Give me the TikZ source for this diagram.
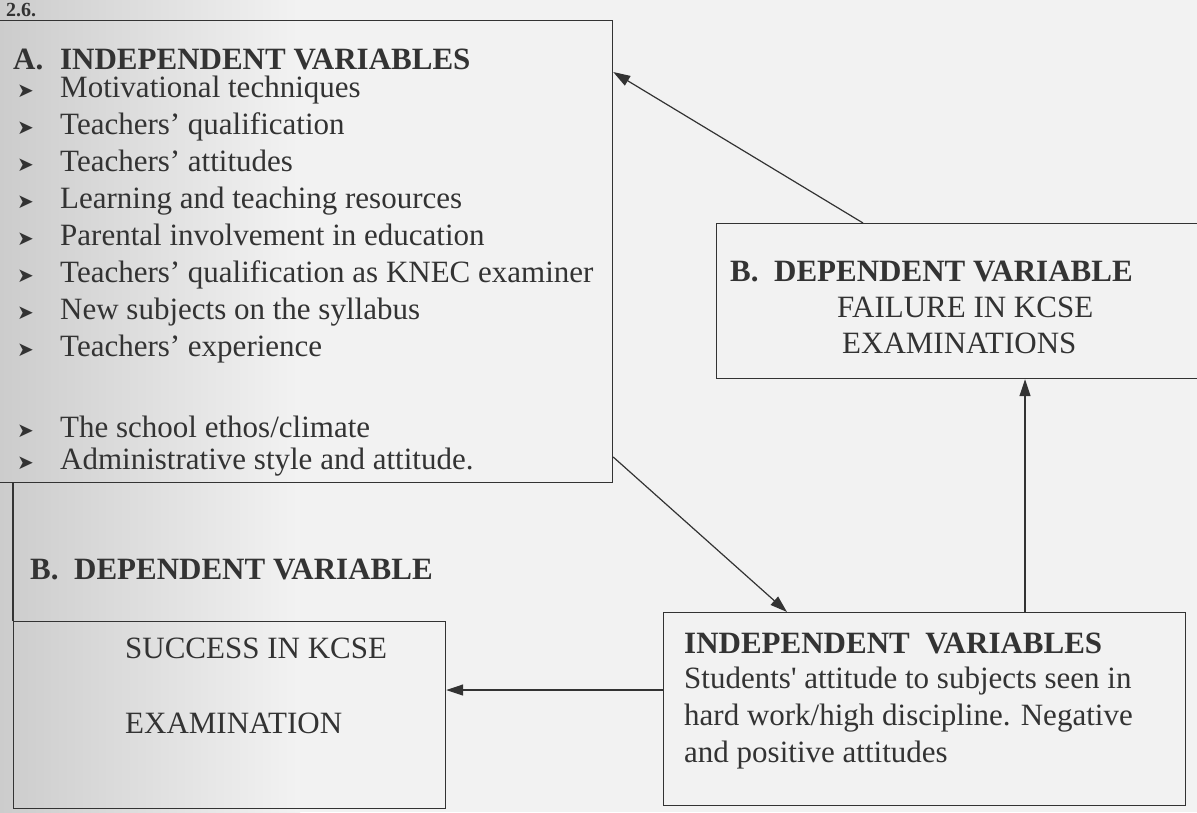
\documentclass[tikz,border=0pt]{standalone}
\usepackage{fontspec}
\setmainfont{Liberation Serif}
\newfontfamily\symfont{DejaVu Sans}
\usetikzlibrary{arrows.meta}
\definecolor{ink}{HTML}{333333}
\tikzset{
  frame/.style={
    rectangle,
    draw=ink,
    line width=1.2pt,
    inner sep=0pt,
    anchor=north west
  },
  txt/.style={
    inner sep=0pt,
    anchor=north west,
    align=left,
    text=ink,
    font=\fontsize{31}{37}\selectfont
  },
  arrow/.style={
    -{Triangle[length=17pt,width=11pt]},
    draw=ink,
    line width=1.2pt
  }
}
\newcommand{\bul}{\makebox[47pt][l]{\hspace*{4pt}\raisebox{0pt}{\symfont\fontsize{20}{20}\selectfont ➤}}}
\newcommand{\lbl}[1]{\makebox[47pt][l]{#1}}

\begin{document}
\begin{tikzpicture}[x=1pt, y=-1pt]
    \useasboundingbox (0,0) rectangle (1197,812);
    \shade[left color=black!20, right color=black!5] (0,0) rectangle (300,812);
    \fill[black!5] (300,0) rectangle (1197,812);

    \node[txt, anchor=base west, font=\fontsize{20}{24}\selectfont\bfseries] (secnum) at (6,16) {2.6.};

    % boxes
    \node[frame, minimum width=624, minimum height=462] (indepA) at (-12,20) {};
    \node[frame, minimum width=490, minimum height=155] (failB) at (716,223) {};
    \node[frame, minimum width=432, minimum height=187] (depB) at (13,621) {};
    \node[frame, minimum width=522, minimum height=193] (studC) at (663,612) {};
    \draw[draw=ink, line width=1.2pt] (indepA.south -| depB.west) -- (depB.north west);

    % texts
    \node[txt] (indepAtxt) at (13,49) {\lbl{\textbf{A.}}\textbf{INDEPENDENT VARIABLES}\\[-9pt]
      \bul Motivational techniques\\
      \bul Teachers' qualification\\
      \bul Teachers' attitudes\\
      \bul Learning and teaching resources\\
      \bul Parental involvement in education\\
      \bul Teachers' qualification as KNEC examiner\\
      \bul New subjects on the syllabus\\
      \bul Teachers' experience\\[44pt]
      \bul The school ethos/climate\\[-5pt]
      \bul Administrative style and attitude.};
    \node[txt] (failBtxt) at (730,260.7) {\textbf{B.\ \ DEPENDENT VARIABLE}\\[-1pt]
      \hspace*{107pt}FAILURE IN KCSE\\[-1pt]
      \hspace*{112pt}EXAMINATIONS};
    \node[txt, font=\fontsize{31}{37}\selectfont\bfseries] (depBhead) at (30,558.7) {B.\ \ DEPENDENT VARIABLE};
    \node[txt] (depBtxt) at (125,637.7) {SUCCESS IN KCSE\\[38pt]EXAMINATION};
    \node[txt] (studCtxt) at (684,632.7) {\textbf{INDEPENDENT\ \ VARIABLES}\\[-2pt]
      Students\textquotesingle\ attitude to subjects seen in\\
      hard work/high discipline. Negative\\
      and positive attitudes};

    % connectors
    \draw[arrow] (failB.north -| 863,0) -- (indepA.east |- 0,72);
    \draw[arrow] (indepA.east |- 0,457) -- (studC.north -| 787,0);
    \draw[arrow] (studC.west |- 0,690) -- (depB.east |- 0,690);
    \draw[arrow] (studC.north -| 1025,0) -- (failB.south -| 1025,0);
\end{tikzpicture}
\end{document}
